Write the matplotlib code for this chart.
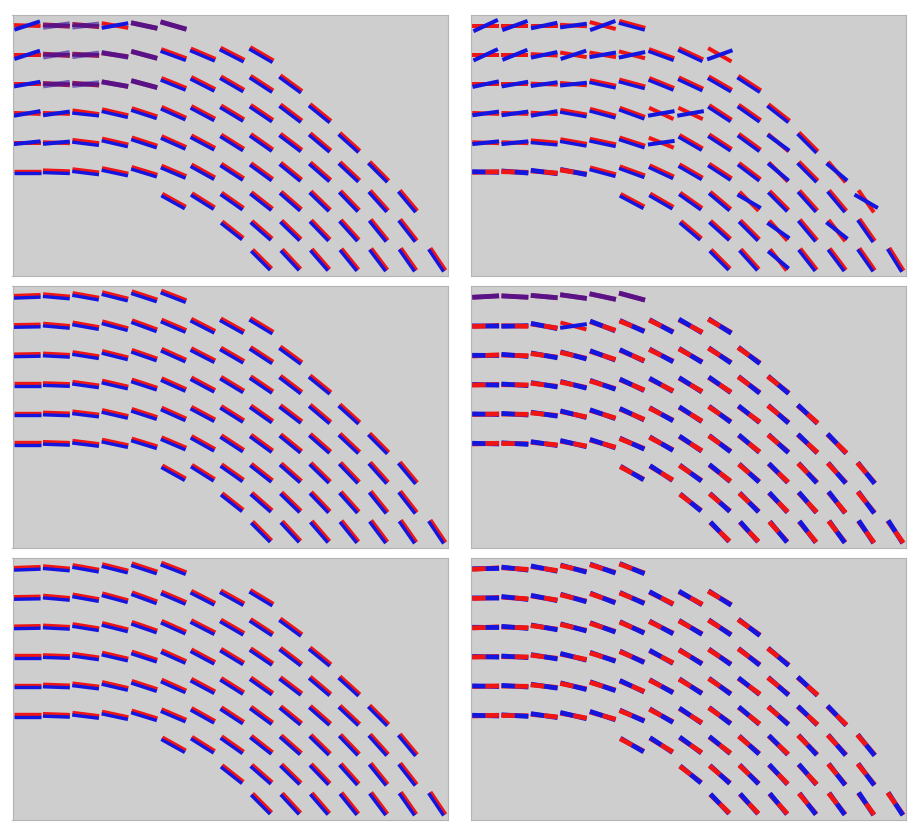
import matplotlib
matplotlib.use("Agg")
import matplotlib.pyplot as plt
import numpy as np

# first grid column of every row (rows counted from the top)
ROW_START = [0, 0, 0, 0, 0, 0, 5, 7, 8]

# rod angle at every node in degrees (positive = rising to the right),
# read off the middle-left panel
BASE_ANGLE = [
    [2, -5, -10, -14, -18, -21],
    [1, -5, -10, -15, -20, -23, -27, -29, -31],
    [1, -3, -9, -14, -19, -24, -27, -30, -33, -36],
    [0, -2, -8, -13, -18, -24, -28, -31, -34, -37, -39],
    [0, -2, -7, -13, -18, -24, -28, -32, -35, -37, -40, -42],
    [0, -2, -7, -12, -17, -23, -29, -33, -36, -39, -41, -43, -45],
    [-29, -32, -35, -38, -41, -44, -46, -48, -50],
    [-38, -41, -44, -46, -48, -51, -52],
    [-45, -47, -49, -51, -53, -55, -56],
]

# panel 1 (top left)
RED_DEV_1 = [
    [-4, 2, 5, 4, 6, 5],
    [-1, 2, 7, 7, 5, 3, 4, 2, 1],
    [-1, 0, 5, 4, 4, 2, 0, 0, 0, 0],
    [-2, 0, 0, 0, 0, 0, 0, 0, 0, 0, 0],
    [0, 0, 0, 0, 0, 0, 0, 0, 0, 0, 0, 0],
    [0, 0, 0, 0, 0, 0, 0, 0, 0, 0, 0, 0, 0],
    [0, 0, 0, 0, 0, 0, 0, 0, 0],
    [0, 0, 0, 0, 0, 0, 0],
    [0, 0, 0, 0, 0, 0, 0],
]
BLUE_DEV_1 = [
    [16, 13, 17, 24, 6, 5],
    [17, 15, 18, 4, 5, 3, 4, 2, 1],
    [9, 11, 15, 4, 4, 2, 0, 0, 0, 0],
    [10, 10, 2, 0, 0, 0, 0, 0, 0, 0, 0],
    [6, 7, 0, 0, 0, 0, 0, 0, 0, 0, 0, 0],
    [0, 0, 0, 0, 0, 0, 0, 0, 0, 0, 0, 0, 0],
    [0, 0, 0, 0, 0, 0, 0, 0, 0],
    [0, 0, 0, 0, 0, 0, 0],
    [0, 0, 0, 0, 0, 0, 0],
]
FLAGS_1 = ["BppBpp", "Bppppoooo", "Bppppooooo", "BBooooooooo",
           "BBoooooooooo", "ooooooooooooo", "ooooooooo", "ooooooo", "ooooooo"]

# panel 2 (top right)
RED_DEV_2 = [
    [-2, 5, 10, 11, 3, 6],
    [-1, 5, 7, 5, 10, 8, 7, 4, 1],
    [-1, 3, 7, 9, 7, 9, 5, 5, 3, 3],
    [-2, 0, 5, 3, 3, 4, 3, 6, 1, 2, 1],
    [-2, 0, 2, 3, 6, 6, 6, 2, 2, 1, 0, -3],
    [0, -1, 1, 2, 2, 3, 4, 3, 3, 2, -4, -2, -5],
    [1, 2, 0, -2, -4, -1, -2, -2, -5],
    [-2, -1, -1, -2, -2, -1, -3],
    [0, -1, -3, -1, 0, 0, -2],
]
BLUE_DEV_2 = [
    [23, 25, 22, 22, 38, 6],
    [24, 27, 22, 33, 30, 35, 7, 4, 51],
    [11, 13, 17, 20, 7, 9, 5, 5, 3, 3],
    [8, 10, 18, 3, 3, 4, 38, 41, 1, 2, 1],
    [6, 8, 2, 3, 6, 6, 36, 2, 2, 1, 4, -3],
    [0, -1, 1, 2, 2, 3, 4, 3, 3, 2, 1, -2, 5],
    [1, 2, 0, -2, 11, -1, -2, -2, 20],
    [-2, -1, -1, 11, -2, 13, -3],
    [0, -1, 9, -1, 0, 0, -2],
]
FLAGS_2 = ["BBBBBo", "BBBBBBooB", "BBBBoooooo", "BBBoooBBooo",
           "BBooooBoooBo", "brbrooooooBoB", "ooooBoooB", "oooBoBo", "ooBoooo"]

# panel 3 (middle left)
FLAGS_3 = ["oooooo", "ooooooooo", "oooooooooo", "ooooooooooo",
           "oooooooooooo", "ooooooooooooo", "ooooooooo", "ooooooo", "ooooooo"]

# panel 4 (middle right)
RED_DEV_4 = [
    [1, 2, 5, 6, 6, 6],
    [0, 2, 0, 0, 0, 0, 0, 0, 0],
    [0, 0, 0, 0, 0, 0, 0, 0, 0, 0],
    [0, 0, 0, 0, 0, 0, 0, 0, 0, 0, 0],
    [0, 0, 0, 0, 0, 0, 0, 0, 0, 0, 0, 0],
    [0, 0, 0, 0, 0, 0, 0, 0, 0, 0, 0, 0, 0],
    [0, 0, 0, 0, 0, 0, 0, 0, 0],
    [0, 0, 0, 0, 0, 0, 0],
    [0, 0, 0, 0, 0, 0, 0],
]
BLUE_DEV_4 = [
    [1, 2, 5, 6, 6, 6],
    [0, 8, 0, 23, 0, 0, 0, 0, 0],
    [0, 0, 0, 0, 0, 0, 0, 0, 0, 0],
    [0, 0, 0, 0, 0, 0, 0, 0, 0, 0, 0],
    [0, 0, 0, 0, 0, 0, 0, 0, 0, 0, 0, 0],
    [0, 0, 0, 0, 0, 0, 0, 0, 0, 0, 0, 0, 0],
    [0, 0, 0, 0, 0, 0, 0, 0, 0],
    [0, 0, 0, 0, 0, 0, 0],
    [0, 0, 0, 0, 0, 0, 0],
]
FLAGS_4 = ["pppppp", "rbbBbrrbr", "bbrrbbrrrr", "rbrrrbbbbrr",
           "bbrbbbrbrbrb", "brbbbrrbrbrbb", "rbrbrbrrr", "rrrbbbr", "bbrbrbb"]

# panel 5 (bottom left)
FLAGS_5 = ["oooooo", "ooooooooo", "oooooooooo", "ooooooooooo",
           "oooooooooooo", "ooooooooooooo", "ooooooooo", "ooooooo", "ooooooo"]

# panel 6 (bottom right)
FLAGS_6 = ["rbbrrr", "rbbrrrbbr", "rbrrrrrrrr", "rbrbrrbrrrr",
           "bbrrrbrrrbrb", "brbbbrrbrbrbb", "rbbbrbrrr", "rrrbbrr", "bbbrrbr"]

PANELS = [
    (RED_DEV_1, BLUE_DEV_1, FLAGS_1),
    (RED_DEV_2, BLUE_DEV_2, FLAGS_2),
    (None, None, FLAGS_3),
    (RED_DEV_4, BLUE_DEV_4, FLAGS_4),
    (None, None, FLAGS_5),
    (None, None, FLAGS_6),
]

RED = "#f01515"
BLUE = "#1515e0"
BG = "#cecece"
HALF = 0.46          # half rod length in grid units
PX = 0.72            # one pixel in points at dpi 100


def rod(ax, x, y, ang, color, lw, part=0, shift=0.0, alpha=1.0):
    t = np.deg2rad(ang)
    dx, dy = np.cos(t) * HALF, -np.sin(t) * HALF
    sx, sy = -np.sin(t) * shift, -np.cos(t) * shift
    if part < 0:
        xs, ys = [x - dx, x], [y - dy, y]
    elif part > 0:
        xs, ys = [x, x + dx], [y, y + dy]
    else:
        xs, ys = [x - dx, x + dx], [y - dy, y + dy]
    ax.plot(np.array(xs) + sx, np.array(ys) + sy, color=color, lw=lw,
            solid_capstyle="butt", alpha=alpha)


def draw_panel(ax, red_dev, blue_dev, flags):
    for r, row in enumerate(BASE_ANGLE):
        for k, base in enumerate(row):
            c = ROW_START[r] + k
            ar = base + (red_dev[r][k] if red_dev else 0)
            ab = base + (blue_dev[r][k] if blue_dev else 0)
            f = flags[r][k]
            if f == "o":
                rod(ax, c, r, ar, RED, 3.4 * PX, shift=0.05)
                rod(ax, c, r, ab, BLUE, 3.4 * PX, shift=-0.035)
            elif f == "r":
                rod(ax, c, r, ab - 1.5, BLUE, 4.8 * PX, part=-1)
                rod(ax, c, r, ar + 1.5, RED, 4.8 * PX, part=1)
                rod(ax, c, r, ar + 1.5, RED, 4.8 * PX, part=-1)
                rod(ax, c, r, ab - 1.5, BLUE, 4.8 * PX, part=1)
            elif f == "b":
                rod(ax, c, r, ar + 1.5, RED, 4.8 * PX, part=-1)
                rod(ax, c, r, ab - 1.5, BLUE, 4.8 * PX, part=1)
                rod(ax, c, r, ab - 1.5, BLUE, 4.8 * PX, part=-1)
                rod(ax, c, r, ar + 1.5, RED, 4.8 * PX, part=1)
            elif f == "p":
                rod(ax, c, r, ar, "#8a1560", 4.8 * PX)
                rod(ax, c, r, ab, "#3a10a0", 4.8 * PX, alpha=0.6)
            else:
                rod(ax, c, r, ar, RED, 4.0 * PX)
                rod(ax, c, r, ab, BLUE, 4.0 * PX)
    ax.set_xlim(-0.5, 14.36)
    ax.set_ylim(8.55, -0.36)
    ax.set_facecolor(BG)
    ax.set_xticks([])
    ax.set_yticks([])
    for s in ax.spines.values():
        s.set_color("#b4b4b4")
        s.set_linewidth(0.8)


def main():
    W, H = 919, 838
    fig = plt.figure(figsize=(W / 100, H / 100), dpi=100)
    lefts = [12.5, 471]
    rows = [(15, 276), (286, 548), (558, 820)]
    for i, (rd, bd, fl) in enumerate(PANELS):
        top, bot = rows[i // 2]
        left = lefts[i % 2]
        ax = fig.add_axes([left / W, 1 - bot / H, 435 / W, (bot - top) / H])
        draw_panel(ax, rd, bd, fl)
    fig.savefig("out.png", dpi=100, facecolor="white")


if __name__ == "__main__":
    main()
